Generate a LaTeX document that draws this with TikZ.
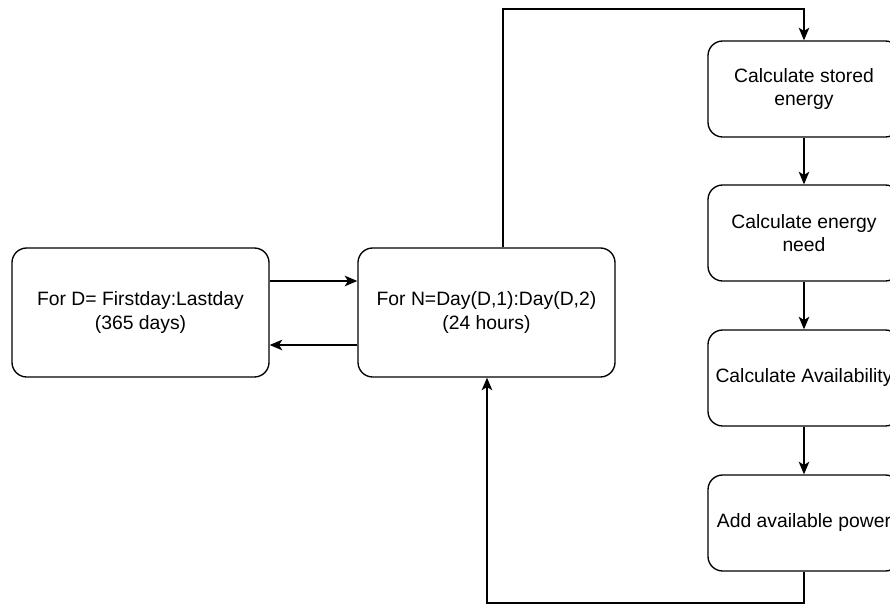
\documentclass[tikz,border=0pt]{standalone}
\usepackage{fontspec}
\setmainfont{Liberation Sans}
\usetikzlibrary{arrows.meta}

\begin{document}
\begin{tikzpicture}[
    x=0.75pt,
    y=-0.75pt,
    caja/.style={draw, line width=1pt, rounded corners=11pt, align=center,
        font=\fontsize{14.5}{17.5}\selectfont},
    bucle/.style={caja, minimum width=192.75pt, minimum height=96.75pt},
    paso/.style={caja, minimum width=144pt, minimum height=72pt},
    flecha/.style={line width=1pt, -{Stealth[length=9.5pt, width=8pt, inset=2.5pt]}}
]
\clip (0,0) rectangle (890,605);

% Bucles de día y de hora
\node[bucle] (dias) at (140.5,312.5) {For D= Firstday:Lastday\\(365 days)};
\node[bucle] (horas) at (486.5,312.5) {For N=Day(D,1):Day(D,2)\\(24 hours)};

% Pasos de cada hora
\foreach \nom/\txt/\y in {
    almacenada/Calculate stored\\energy/89,
    necesidad/Calculate energy\\need/233,
    disponib/Calculate Availability/378,
    potencia/Add available power/523}
{
    \node[paso] (\nom) at (804,\y) {\txt};
}

\draw[flecha] (dias.east |- 0,281) -- (horas.west |- 0,281);
\draw[flecha] (horas.west |- 0,345) -- (dias.east |- 0,345);

\foreach \a/\b in {almacenada/necesidad, necesidad/disponib, disponib/potencia}
    \draw[flecha] (\a) -- (\b);

% Vuelta del bucle
\coordinate (arriba) at (503,9);
\coordinate (abajo) at (487,603);
\draw[flecha] (horas.north -| arriba) -- (arriba) -| (almacenada.north);
\draw[flecha] (potencia.south) |- (abajo) -- (horas.south -| abajo);

\end{tikzpicture}
\end{document}
